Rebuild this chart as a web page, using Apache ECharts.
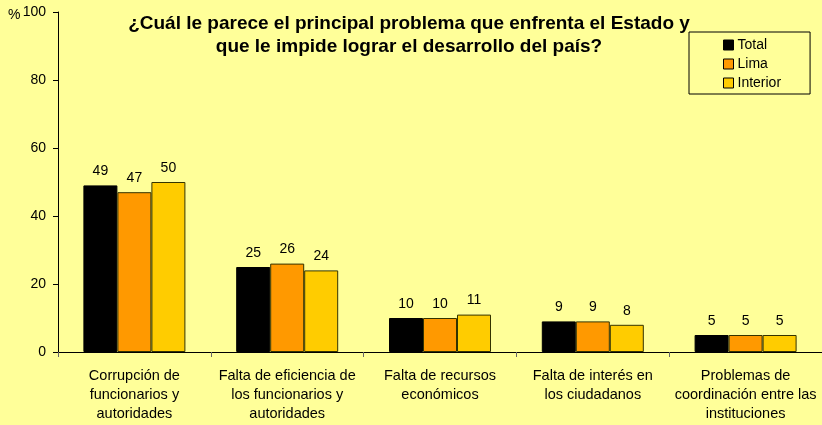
<!DOCTYPE html>
<html><head><meta charset="utf-8">
<script src="https://cdn.jsdelivr.net/npm/echarts@6/dist/echarts.min.js"></script>
<style>html,body{margin:0;padding:0;background:#FFFF99;}#c{width:822px;height:425px;}</style>
</head><body><div id="c"></div>
<script>
const categories = ["Corrupción de\nfuncionarios y\nautoridades","Falta de eficiencia de\nlos funcionarios y\nautoridades","Falta de recursos\neconómicos","Falta de interés en\nlos ciudadanos","Problemas de\ncoordinación entre las\ninstituciones"];
const totalValues = [49,25,10,9,5];
const limaValues = [47,26,10,9,5];
const interiorValues = [50,24,11,8,5];
const yTicks = [0,20,40,60,80,100];
const font = "'Liberation Sans', Arial, sans-serif";
const chart = echarts.init(document.getElementById('c'));
function s(name, data, color, border){
  return {name, type:'bar', data, barWidth:34, barGap:'0%',
    itemStyle:{color, borderColor:border, borderWidth:1},
    label:{show:true, position:'top', distance:7, color:'#000', fontFamily:font, fontSize:14}};
}
chart.setOption({
  backgroundColor:'#FFFF99',
  animation:false,
  textStyle:{fontFamily:font},
  title:{text:'¿Cuál le parece el principal problema que enfrenta el Estado y\nque le impide lograr el desarrollo del país?',
    left:404, top:7, textAlign:'center',
    textStyle:{fontFamily:font, fontSize:19, fontWeight:'bold', color:'#000', lineHeight:23}},
  legend:{orient:'vertical', left:689, top:32,
    itemWidth:10, itemHeight:10, itemGap:5, padding:[6,29,4,34],
    borderColor:'#000', borderWidth:1, backgroundColor:'#FFFF99',
    textStyle:{fontFamily:font, fontSize:14, color:'#000', padding:[0,0,0,-1]},
    data:[{name:'Total', icon:'rect', itemStyle:{borderColor:'#000',borderWidth:1}},
          {name:'Lima', icon:'rect', itemStyle:{borderColor:'#000',borderWidth:1}},
          {name:'Interior', icon:'rect', itemStyle:{borderColor:'#000',borderWidth:1}}]},
  graphic:[{type:'text', left:8, top:8, style:{text:'%', fontFamily:font, fontSize:14, fill:'#000'}}],
  grid:{left:58, right:0, top:12, bottom:73, containLabel:false, outerBoundsMode:'none'},
  xAxis:{type:'category', data:categories,
    axisLine:{lineStyle:{color:'#000', width:1}},
    axisTick:{show:true, alignWithLabel:false, length:5, lineStyle:{color:'#666'}},
    axisLabel:{interval:0, color:'#000', fontFamily:font, fontSize:14.5, lineHeight:19, margin:14}},
  yAxis:{type:'value', min:0, max:100, interval:20,
    axisLine:{show:true, lineStyle:{color:'#000'}},
    axisTick:{show:true, length:5, lineStyle:{color:'#000'}},
    splitLine:{show:false},
    axisLabel:{color:'#000', fontFamily:font, fontSize:14, margin:12,
      formatter:v=>yTicks.includes(v)?String(v):''}},
  series:[s('Total', totalValues, '#000000', '#000000'),
          s('Lima', limaValues, '#FF9900', '#333300'),
          s('Interior', interiorValues, '#FFCC00', '#333300')]
});
</script></body></html>
